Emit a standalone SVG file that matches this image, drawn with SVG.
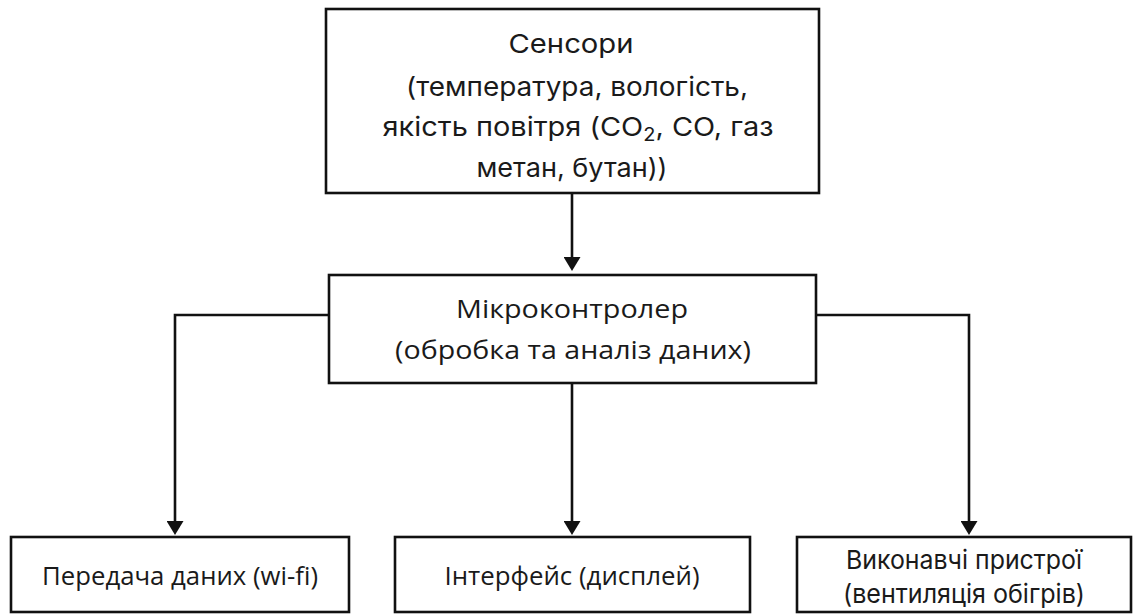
<svg xmlns="http://www.w3.org/2000/svg" width="1133" height="614" viewBox="0 0 1133 614">
  <defs>
    <marker id="arrow" markerUnits="userSpaceOnUse" markerWidth="17" markerHeight="17" refX="10" refY="8.5" orient="auto">
      <path d="M0,0 L14,8.5 L0,17 z" fill="#111"/>
    </marker>
    <style>
      .box { fill: #fff; stroke: #111; stroke-width: 2.6; }
      .conn { fill: none; stroke: #111; stroke-width: 2.6; marker-end: url(#arrow); }
      .geo { font-family: Inter, "Noto Sans", "DejaVu Sans", sans-serif; font-size: 26px; fill: #1a1a1a; text-anchor: middle; }
      .narrow { font-family: "Open Sans", "Noto Sans", "DejaVu Sans", sans-serif; font-size: 26px; fill: #1a1a1a; text-anchor: middle; }
    </style>
  </defs>

  <rect width="1133" height="614" fill="#fff"/>

  <!-- connectors -->
  <g id="connectors">
    <path class="conn" d="M572,193 L572,267"/>
    <path class="conn" d="M329,315 L175,315 L175,531"/>
    <path class="conn" d="M572,383 L572,531"/>
    <path class="conn" d="M816,315 L969,315 L969,531"/>
  </g>

  <!-- sensors -->
  <g id="sensors">
    <rect class="box" x="326" y="9" width="493" height="184"/>
    <text class="geo" x="571" y="53" textLength="125" lengthAdjust="spacingAndGlyphs">Сенсори</text>
    <text class="geo" x="577" y="96" textLength="342" lengthAdjust="spacingAndGlyphs">(температура, вологість,</text>
    <text class="geo" x="578" y="136" textLength="391" lengthAdjust="spacingAndGlyphs">якість повітря (CO<tspan font-size="18" dy="5">2</tspan><tspan dy="-5">, CO, газ</tspan></text>
    <text class="geo" x="572" y="177" textLength="191" lengthAdjust="spacingAndGlyphs">метан, бутан))</text>
  </g>

  <!-- microcontroller -->
  <g id="microcontroller">
    <rect class="box" x="329" y="275" width="487" height="108"/>
    <text class="narrow" x="572" y="318" textLength="232" lengthAdjust="spacingAndGlyphs">Мікроконтролер</text>
    <text class="narrow" x="573" y="359" textLength="356" lengthAdjust="spacingAndGlyphs">(обробка та аналіз даних)</text>
  </g>

  <!-- data transfer -->
  <g id="data-transfer">
    <rect class="box" x="11" y="537" width="338" height="75"/>
    <text class="narrow" x="180" y="585" textLength="276" lengthAdjust="spacingAndGlyphs">Передача даних (wi-fi)</text>
  </g>

  <!-- interface -->
  <g id="interface">
    <rect class="box" x="395" y="537" width="355" height="75"/>
    <text class="narrow" x="572" y="585" textLength="255" lengthAdjust="spacingAndGlyphs">Інтерфейс (дисплей)</text>
  </g>

  <!-- actuators -->
  <g id="actuators">
    <rect class="box" x="797" y="537" width="334" height="75"/>
    <text class="geo" x="964" y="569" textLength="236" lengthAdjust="spacingAndGlyphs">Виконавчі пристрої</text>
    <text class="geo" x="964" y="603" textLength="242" lengthAdjust="spacingAndGlyphs">(вентиляція обігрів)</text>
  </g>
</svg>
